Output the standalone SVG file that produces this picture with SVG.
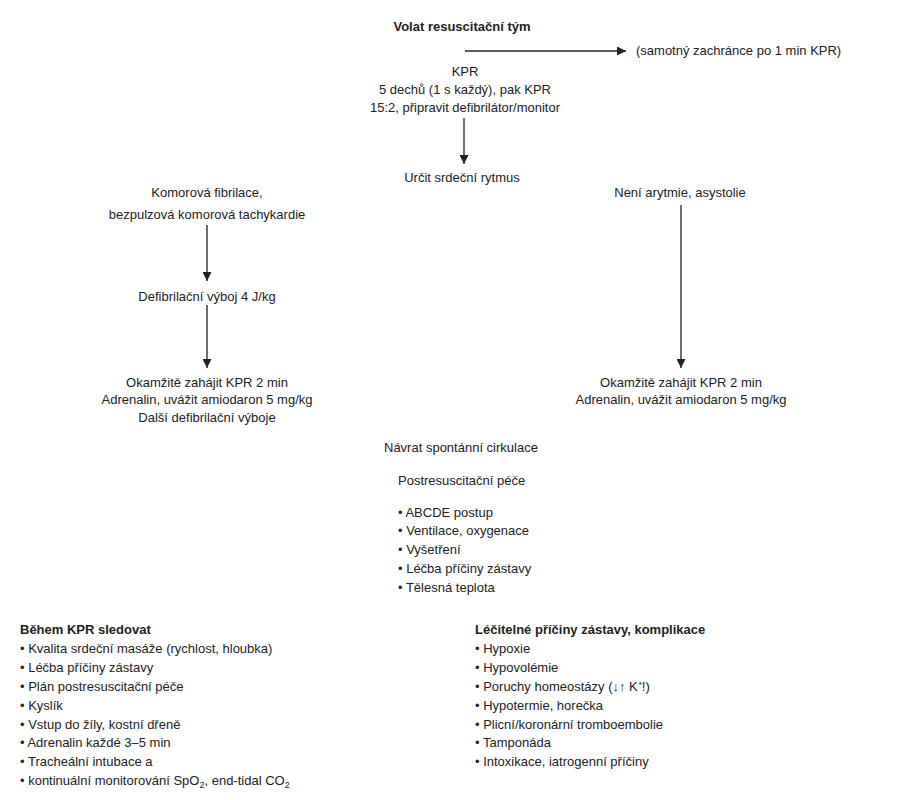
<svg xmlns="http://www.w3.org/2000/svg" width="911" height="800" viewBox="0 0 911 800">
<style>
text{font-family:"Liberation Sans Narrow","Liberation Sans",sans-serif;font-size:13px;fill:#222}
.b{font-weight:bold}
.c{text-anchor:middle}
line{stroke:#222;stroke-width:1.3}
</style>
<defs><marker id="a" viewBox="0 0 10 10" refX="10" refY="5" markerWidth="9" markerHeight="9" markerUnits="userSpaceOnUse" orient="auto"><path d="M0,0L10,5L0,10z" fill="#222"/></marker></defs>
<rect width="911" height="800" fill="#fff"/>
<g id="connectors">
<line x1="465" y1="51" x2="626" y2="51" marker-end="url(#a)"/>
<line x1="464" y1="118" x2="464" y2="164" marker-end="url(#a)"/>
<line x1="207" y1="225" x2="207" y2="281" marker-end="url(#a)"/>
<line x1="207" y1="305" x2="207" y2="368" marker-end="url(#a)"/>
<line x1="681" y1="205" x2="681" y2="368" marker-end="url(#a)"/>
</g>
<g id="volat"><text class="b c" x="462" y="31">Volat resuscitační tým</text></g>
<g id="samotny"><text x="636" y="55">(samotný zachránce po 1 min KPR)</text></g>
<g id="kpr"><text class="c" x="465" y="76">KPR</text><text class="c" x="465" y="94">5 dechů (1 s každý), pak KPR</text><text class="c" x="465" y="112">15:2, připravit defibrilátor/monitor</text></g>
<g id="rytmus"><text class="c" x="462" y="182">Určit srdeční rytmus</text></g>
<g id="fibrilace"><text class="c" x="207" y="197">Komorová fibrilace,</text><text class="c" x="207" y="219">bezpulzová komorová tachykardie</text></g>
<g id="defib"><text class="c" x="207" y="301">Defibrilační výboj 4 J/kg</text></g>
<g id="kpr-left"><text class="c" x="207" y="387">Okamžitě zahájit KPR 2 min</text><text class="c" x="207" y="404">Adrenalin, uvážit amiodaron 5 mg/kg</text><text class="c" x="207" y="422">Další defibrilační výboje</text></g>
<g id="asystolie"><text class="c" x="680" y="197">Není arytmie, asystolie</text></g>
<g id="kpr-right"><text class="c" x="681" y="387">Okamžitě zahájit KPR 2 min</text><text class="c" x="681" y="404">Adrenalin, uvážit amiodaron 5 mg/kg</text></g>
<g id="navrat"><text x="384" y="452">Návrat spontánní cirkulace</text></g>
<g id="postres"><text x="398" y="485">Postresuscitační péče</text>
<text x="398" y="517">• ABCDE postup</text><text x="398" y="535">• Ventilace, oxygenace</text><text x="398" y="554">• Vyšetření</text><text x="398" y="573">• Léčba příčiny zástavy</text><text x="398" y="592">• Tělesná teplota</text></g>
<g id="behem"><text class="b" x="20" y="634">Během KPR  sledovat</text>
<text x="20" y="653">• Kvalita srdeční masáže (rychlost, hloubka)</text>
<text x="20" y="672">• Léčba příčiny zástavy</text>
<text x="20" y="691">• Plán postresuscitační péče</text>
<text x="20" y="710">• Kyslík</text>
<text x="20" y="729">• Vstup do žíly, kostní dřeně</text>
<text x="20" y="747">• Adrenalin každé 3–5 min</text>
<text x="20" y="766">• Tracheální intubace a</text>
<text x="20" y="785">• kontinuální monitorování SpO<tspan font-size="9" dy="3">2</tspan><tspan dy="-3">, end-tidal CO</tspan><tspan font-size="9" dy="3">2</tspan></text></g>
<g id="pricine"><text class="b" x="475" y="634">Léčitelné příčiny zástavy, komplikace</text>
<text x="475" y="653">• Hypoxie</text>
<text x="475" y="672">• Hypovolémie</text>
<text x="475" y="691">• Poruchy homeostázy (↓↑ K⁺!)</text>
<text x="475" y="710">• Hypotermie, horečka</text>
<text x="475" y="729">• Plicní/koronární tromboembolie</text>
<text x="475" y="747">• Tamponáda</text>
<text x="475" y="766">• Intoxikace, iatrogenní  příčiny</text></g>
</svg>
